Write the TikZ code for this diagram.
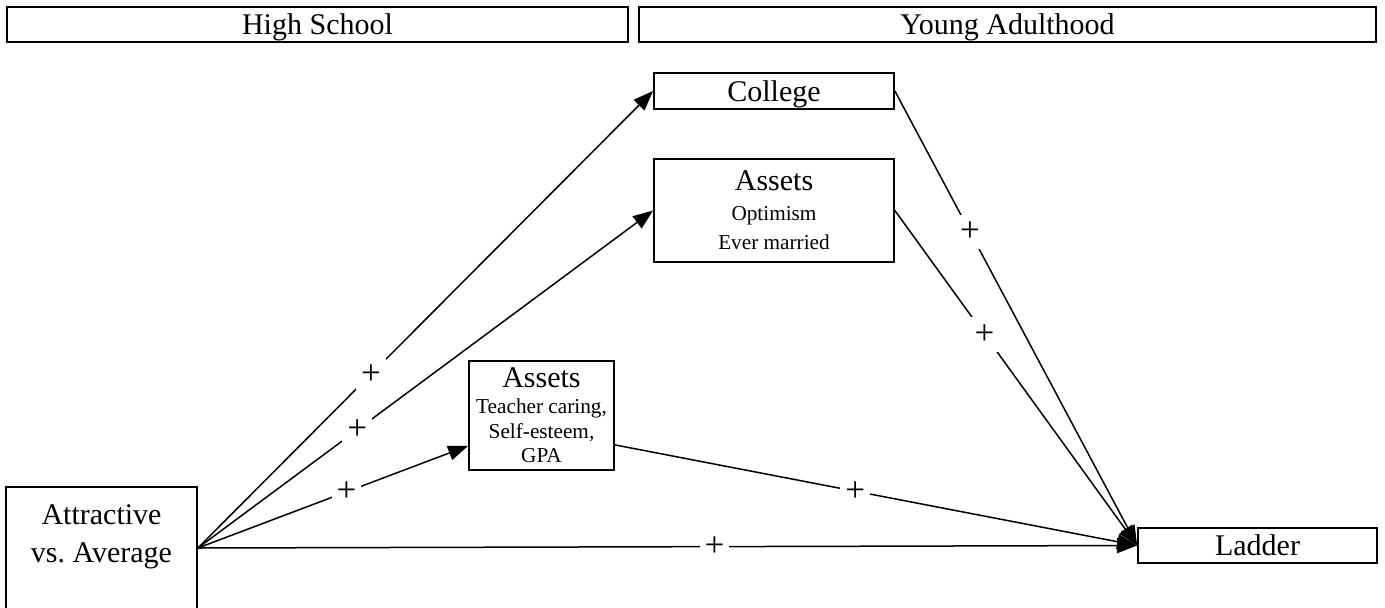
\documentclass[tikz,border=0pt]{standalone}
\usepackage{fontspec}
\setmainfont{Liberation Serif}
\usetikzlibrary{arrows.meta}
\newcommand\boxfont{\fontsize{12}{15.2}\selectfont}
\newcommand\itemfont{\fontsize{8.5}{10}\selectfont}
\tikzset{vbox/.style = {shape = rectangle,
                        color = black,
                        line width = 0.7pt,
                        inner sep = 0pt,
                        align = center,
                        font = \boxfont,
                        draw},
         sign/.style = {fill = white,
                        inner xsep = 2pt,
                        inner ysep = 3pt,
                        font = \fontsize{14}{14}\selectfont},
         link/.style = {line width = 0.6pt,
                        -{Triangle[length = 8pt, width = 6pt]}}}

\begin{document}
\begin{tikzpicture}[x = 0.4pt, y = -0.4pt]
		\useasboundingbox (0,0) rectangle (1385,607);
		\node[vbox, text depth = 0pt, minimum width = 248.4pt, minimum height = 14pt] (hs) at (317.5,24.5) {High School};
		\node[vbox, text depth = 0pt, minimum width = 294.8pt, minimum height = 14pt] (ya) at (1007.5,24.5) {Young Adulthood};
		\node[vbox, text depth = 0pt, minimum width = 96pt, minimum height = 14.4pt] (college) at (774,91) {College};
		\node[vbox, minimum width = 96pt, minimum height = 41.2pt] (aya) at (774,210.5) {Assets\\[-3.2pt] \itemfont Optimism\\[-3.6pt] \itemfont Ever married};
		\node[vbox, minimum width = 58pt, minimum height = 43.6pt] (ahs) at (541.5,415.5) {Assets\\[-4.8pt] \itemfont Teacher caring,\\[-5.2pt] \itemfont Self-esteem,\\[-5.6pt] \itemfont GPA};
		\node[vbox, minimum width = 76.4pt, minimum height = 48.8pt] (attr) at (101.5,548) {};
		\node[align = center, font = \boxfont, inner sep = 0pt] (attrtxt) at (101.5,537) {Attractive\\ vs.\ Average};
		\node[vbox, text depth = 0pt, minimum width = 95.6pt, minimum height = 14pt] (ladder) at (1257.5,545.5) {Ladder};
		\coordinate (ahsin) at ([yshift = 10pt]ahs.south west);
		\coordinate (ahsout) at ([yshift = 10.4pt]ahs.south east);
		\path[link] (attr.east) edge node[sign, pos = 0.38] {+} (college.west);
		\path[link] (attr.east) edge node[sign, pos = 0.35] {+} (aya.west);
		\path[link] (attr.east) edge node[sign, pos = 0.55] {+} (ahsin);
		\path[link] (attr.east) edge node[sign, pos = 0.55] {+} (ladder.west);
		\path[link] (ahsout) edge node[sign, pos = 0.46] {+} (ladder.west);
		\path[link] (college.east) edge node[sign, pos = 0.31] {+} (ladder.west);
		\path[link] (aya.east) edge node[sign, pos = 0.37] {+} (ladder.west);
	\end{tikzpicture}
\end{document}
